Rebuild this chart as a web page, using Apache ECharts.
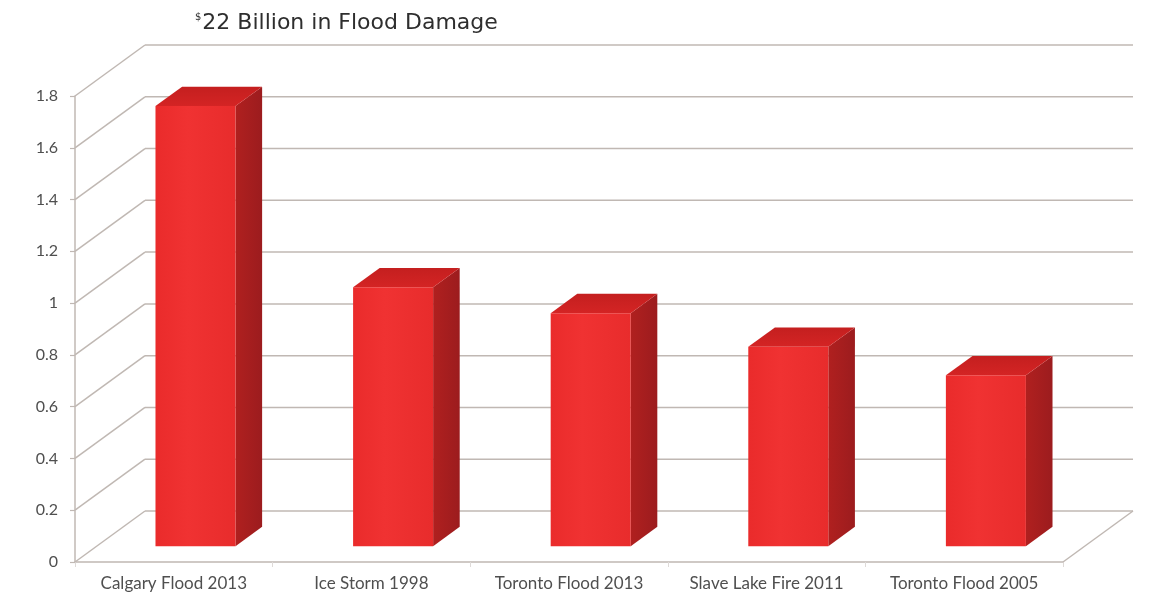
<!DOCTYPE html>
<html>
<head>
<meta charset="utf-8">
<script src="https://cdn.jsdelivr.net/npm/echarts@6/dist/echarts.min.js"></script>
<style>
html,body{margin:0;padding:0;background:#fff;}
#chart{width:1149px;height:601px;}
</style>
</head>
<body>
<div id="chart"></div>
<script>
// ---- data ----
const categories = ['Calgary Flood 2013', 'Ice Storm 1998', 'Toronto Flood 2013', 'Slave Lake Fire 2011', 'Toronto Flood 2005'];
const damage = [1.70, 1.00, 0.90, 0.77, 0.66];
const yTickValues = [0, 0.2, 0.4, 0.6, 0.8, 1.0, 1.2, 1.4, 1.6, 1.8];
const titleMain = '22 Billion in Flood Damage';
const titleSup = '$';

// ---- presentation (3D projection offsets) ----
const DEPTH_X = 70, DEPTH_Y = -51;
const BAR_FRONT = 0.31, BAR_DEPTH = 0.38, BAR_WIDTH = 0.405;
const gridColor = '#c0b8b3';

const chart = echarts.init(document.getElementById('chart'));

const option = {
  backgroundColor: '#ffffff',
  animation: false,
  title: {
    text: '{s|' + titleSup + '}{m|' + titleMain + '}',
    left: 190,
    top: 7,
    textStyle: {
      fontWeight: 'normal',
      rich: {
        s: { fontFamily: 'DejaVu Sans', fontWeight: 'normal', fontSize: 10, color: '#333', verticalAlign: 'top', padding: [0, 1, 12, 0] },
        m: { fontFamily: 'DejaVu Sans', fontWeight: 'normal', fontSize: 22, color: '#2e2e2e' }
      }
    }
  },
  grid: { left: 75, right: 86, top: 96, bottom: 39, containLabel: false },
  xAxis: {
    type: 'category',
    data: categories,
    boundaryGap: true,
    axisLine: { show: true, lineStyle: { color: gridColor, width: 1.5 } },
    axisTick: { show: true, interval: 0, length: 5, lineStyle: { color: '#dedad8', width: 1 } },
    axisLabel: { margin: 13, fontFamily: 'Lato', fontSize: 17, color: '#4f4f4f', interval: 0 },
    splitLine: { show: false }
  },
  yAxis: {
    type: 'value',
    min: 0, max: 1.8, interval: 0.2,
    axisLine: { show: true, lineStyle: { color: gridColor, width: 1.5 } },
    axisTick: { show: true, length: 5, lineStyle: { color: gridColor, width: 1.2 } },
    axisLabel: {
      margin: 17, fontFamily: 'Lato', fontSize: 16, color: '#4f4f4f',
      formatter: v => String(+v.toFixed(1))
    },
    splitLine: { show: false }
  },
  series: [
    {
      type: 'custom',
      name: 'walls',
      silent: true,
      clip: false,
      z: 1,
      encode: { x: 0, y: 1 },
      data: yTickValues.map(v => [0, v]),
      renderItem: function (params, api) {
        const cs = params.coordSys;
        const v = api.value(1);
        const y = api.coord([0, v])[1];
        const x0 = cs.x, x1 = cs.x + cs.width;
        const st = { stroke: gridColor, lineWidth: 1.5, fill: null };
        const children = [
          { type: 'line', shape: { x1: x0, y1: y, x2: x0 + DEPTH_X, y2: y + DEPTH_Y }, style: st },
          { type: 'line', shape: { x1: x0 + DEPTH_X, y1: y + DEPTH_Y, x2: x1 + DEPTH_X, y2: y + DEPTH_Y }, style: st }
        ];
        if (v === 0) {
          children.push({ type: 'line', shape: { x1: x1, y1: y, x2: x1 + DEPTH_X, y2: y + DEPTH_Y }, style: st });
        }
        return { type: 'group', children: children };
      }
    },
    {
      type: 'custom',
      name: 'Damage',
      clip: false,
      z: 5,
      encode: { x: 0, y: 1 },
      data: damage.map((v, i) => [i, v]),
      renderItem: function (params, api) {
        const i = api.value(0), v = api.value(1);
        const base = api.coord([i, 0]);
        const top = api.coord([i, v]);
        const cw = api.size([1, 0])[0];
        const w = cw * BAR_WIDTH;
        const fx = DEPTH_X * BAR_FRONT, fy = DEPTH_Y * BAR_FRONT;
        const dx = DEPTH_X * BAR_DEPTH, dy = DEPTH_Y * BAR_DEPTH;
        const xl = base[0] + fx - w / 2, xr = xl + w;
        const yb = base[1] + fy, yt = top[1] + fy;
        return {
          type: 'group',
          children: [
            {
              type: 'polygon',
              shape: { points: [[xr, yb], [xr + dx, yb + dy], [xr + dx, yt + dy], [xr, yt]] },
              style: { fill: new echarts.graphic.LinearGradient(0, 0, 1, 0, [
                { offset: 0, color: '#b0201f' }, { offset: 1, color: '#9c1c1e' }]) }
            },
            {
              type: 'polygon',
              shape: { points: [[xl, yt], [xl + dx, yt + dy], [xr + dx, yt + dy], [xr, yt]] },
              style: { fill: new echarts.graphic.LinearGradient(0, 1, 0, 0, [
                { offset: 0, color: '#d42424' }, { offset: 1, color: '#c41f1f' }]) }
            },
            {
              type: 'rect',
              shape: { x: xl, y: yt, width: w, height: yb - yt },
              style: { fill: new echarts.graphic.LinearGradient(0, 0, 1, 0, [
                { offset: 0, color: '#ea2b2b' }, { offset: 0.4, color: '#f03232' }, { offset: 1, color: '#e82c2c' }]) }
            }
          ]
        };
      }
    }
  ]
};

chart.setOption(option);
</script>
</body>
</html>
